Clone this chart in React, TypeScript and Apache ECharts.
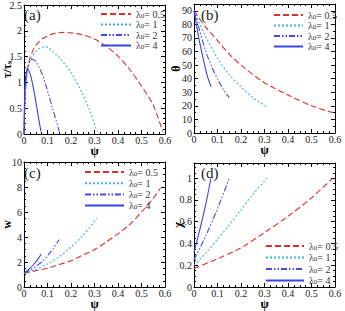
import React, { useEffect, useRef } from "react";
import * as echarts from "echarts";

// ---------- data ----------
const seriesNames = ["λ0= 0.5", "λ0= 1", "λ0= 2", "λ0= 4"];
const xTickLabels = ["0", "0.1", "0.2", "0.3", "0.4", "0.5", "0.6"];

// (a) tau / tau_s vs psi
const psiA05 = [0, 0.005, 0.01, 0.02, 0.04, 0.06, 0.08, 0.1, 0.13, 0.17, 0.2, 0.25, 0.3, 0.35, 0.4, 0.45, 0.5, 0.55, 0.59];
const tauA05 = [0, 0.75, 1.05, 1.38, 1.64, 1.77, 1.85, 1.9, 1.95, 1.97, 1.96, 1.92, 1.84, 1.7, 1.51, 1.25, 0.93, 0.56, 0.05];
const psiA1 = [0, 0.005, 0.01, 0.02, 0.035, 0.05, 0.07, 0.085, 0.1, 0.12, 0.15, 0.2, 0.25, 0.28, 0.31];
const tauA1 = [0, 0.75, 1.04, 1.33, 1.5, 1.6, 1.67, 1.69, 1.68, 1.61, 1.48, 1.19, 0.77, 0.45, 0.05];
const psiA2 = [0, 0.004, 0.01, 0.02, 0.035, 0.05, 0.06, 0.08, 0.1, 0.12, 0.15];
const tauA2 = [0, 0.75, 1.17, 1.36, 1.45, 1.41, 1.33, 1.13, 0.84, 0.52, 0.05];
const psiA4 = [0, 0.003, 0.007, 0.015, 0.025, 0.03, 0.04, 0.05, 0.06, 0.072];
const tauA4 = [0, 0.8, 1.12, 1.26, 1.18, 1.1, 0.89, 0.64, 0.36, 0.05];

// (b) theta vs psi
const psiB05 = [0, 0.02, 0.05, 0.1, 0.15, 0.2, 0.3, 0.4, 0.5, 0.59];
const thB05 = [90, 85, 78, 68, 58, 50, 37, 28, 20, 15];
const psiB1 = [0, 0.02, 0.05, 0.1, 0.15, 0.2, 0.25, 0.31];
const thB1 = [90, 82, 71, 55, 43, 34, 26, 19.5];
const psiB2 = [0, 0.02, 0.05, 0.08, 0.1, 0.125, 0.15];
const thB2 = [90, 78, 60, 47, 40, 32, 26];
const psiB4 = [0, 0.01, 0.02, 0.03, 0.04, 0.055, 0.073];
const thB4 = [90, 80, 70, 62, 54, 43, 34];

// (c) w vs psi
const psiC05 = [0, 0.05, 0.1, 0.15, 0.2, 0.25, 0.3, 0.35, 0.4, 0.45, 0.5, 0.55, 0.58];
const wC05 = [1.1, 1.3, 1.5, 1.8, 2.1, 2.55, 3.0, 3.6, 4.25, 5.0, 6.0, 7.1, 7.9];
const psiC1 = [0, 0.05, 0.1, 0.15, 0.2, 0.25, 0.31];
const wC1 = [1.1, 1.4, 1.85, 2.4, 3.2, 4.1, 5.5];
const psiC2 = [0, 0.025, 0.05, 0.075, 0.1, 0.125, 0.15];
const wC2 = [1.1, 1.35, 1.65, 2.0, 2.5, 3.1, 3.8];
const psiC4 = [0, 0.02, 0.04, 0.06, 0.073];
const wC4 = [1.1, 1.4, 1.78, 2.25, 2.64];

// (d) chi vs psi
const psiD05 = [0, 0.1, 0.2, 0.3, 0.4, 0.5, 0.59];
const chiD05 = [0.17, 0.26, 0.36, 0.5, 0.65, 0.82, 1.0];
const psiD1 = [0, 0.05, 0.1, 0.15, 0.2, 0.25, 0.31];
const chiD1 = [0.2, 0.31, 0.44, 0.57, 0.71, 0.85, 1.0];
const psiD2 = [0, 0.05, 0.1, 0.15];
const chiD2 = [0.25, 0.47, 0.72, 1.0];
const psiD4 = [0, 0.025, 0.05, 0.072];
const chiD4 = [0.32, 0.53, 0.76, 1.0];

const FONT = "Liberation Serif";
const colors = ["#e0302a", "#3cb0f0", "#4a4ae6", "#3344ee"];
const dashes: any[] = [[6, 3], [2, 2], [6, 2, 1.5, 2, 1.5, 2], "solid"];

const zip = (xs: number[], ys: number[]) => xs.map((x, i) => [x, ys[i]]);

export default function App() {
  const ref = useRef<HTMLDivElement>(null);
  useEffect(() => {
    if (!ref.current) return;
    const chart = echarts.init(ref.current, null, { renderer: "svg" });

    const grids = [
      { left: 21, top: 4, width: 144, height: 130 },
      { left: 194, top: 4, width: 141, height: 129 },
      { left: 21, top: 162, width: 144, height: 130 },
      { left: 194, top: 163, width: 141, height: 129 },
    ];
    const yCfg = [
      { min: 0, max: 2.5, interval: 0.5, minor: 5, name: "{b|τ/τ}{s|s}", gap: 11, fmt: (v: number) => String(v) },
      { min: 0, max: 95, interval: 10, minor: 2, name: "{b|θ}", gap: 12, fmt: (v: number) => String(v) },
      { min: 0, max: 10, interval: 2, minor: 4, name: "{b|w}", gap: 11, fmt: (v: number) => String(v) },
      { min: 0, max: 1.14, interval: 0.2, minor: 4, name: "{b|χ}", gap: 10, fmt: (v: number) => (v > 1.05 ? "" : String(Math.round(v * 10) / 10)) },
    ];
    const data = [
      [zip(psiA05, tauA05), zip(psiA1, tauA1), zip(psiA2, tauA2), zip(psiA4, tauA4)],
      [zip(psiB05, thB05), zip(psiB1, thB1), zip(psiB2, thB2), zip(psiB4, thB4)],
      [zip(psiC05, wC05), zip(psiC1, wC1), zip(psiC2, wC2), zip(psiC4, wC4)],
      [zip(psiD05, chiD05), zip(psiD1, chiD1), zip(psiD2, chiD2), zip(psiD4, chiD4)],
    ];

    const axisLine = { show: true, onZero: false, lineStyle: { color: "#000", width: 1 } };
    const xAxes: any[] = [];
    const yAxes: any[] = [];
    const series: any[] = [];
    grids.forEach((g, i) => {
      xAxes.push({
        type: "value", gridIndex: i, min: 0, max: 0.6, interval: 0.1, position: "bottom",
        axisLine, splitLine: { show: false },
        axisTick: { inside: true, length: 4, lineStyle: { color: "#000" } },
        minorTick: { show: true, splitNumber: 4, length: 2, lineStyle: { color: "#000" } },
        axisLabel: { fontFamily: FONT, fontSize: 10, color: "#222", margin: 1,
          formatter: (v: number) => xTickLabels[Math.round(v * 10)] ?? "" },
        name: "ψ", nameLocation: "middle", nameGap: 11, nameMoveOverlap: false,
        nameTextStyle: { fontFamily: FONT, fontSize: 12, fontWeight: "bold", color: "#000" },
      });
      xAxes.push({
        type: "value", gridIndex: i, min: 0, max: 0.6, interval: 0.1, position: "top",
        axisLine, splitLine: { show: false }, axisLabel: { show: false },
        axisTick: { inside: true, length: 4, lineStyle: { color: "#000" } },
        minorTick: { show: true, splitNumber: 4, length: 2, lineStyle: { color: "#000" } },
      });
      const yc = yCfg[i];
      yAxes.push({
        type: "value", gridIndex: i, min: yc.min, max: yc.max, interval: yc.interval, position: "left",
        axisLine, splitLine: { show: false },
        axisTick: { inside: true, length: 4, lineStyle: { color: "#000" } },
        minorTick: { show: true, splitNumber: yc.minor, length: 2, lineStyle: { color: "#000" } },
        axisLabel: { fontFamily: FONT, fontSize: 10, color: "#222", margin: 2, formatter: yc.fmt },
        name: yc.name, nameLocation: "middle", nameGap: yc.gap, nameRotate: 90, nameMoveOverlap: false,
        nameTextStyle: {
          fontFamily: FONT, color: "#000",
          rich: {
            b: { fontFamily: FONT, fontSize: 12, fontWeight: "bold", color: "#000", lineHeight: 12, verticalAlign: "bottom" },
            s: { fontFamily: FONT, fontSize: 8, fontWeight: "bold", color: "#000", lineHeight: 12, verticalAlign: "bottom" },
          },
        },
      });
      yAxes.push({
        type: "value", gridIndex: i, min: yc.min, max: yc.max, interval: yc.interval, position: "right",
        axisLine, splitLine: { show: false }, axisLabel: { show: false },
        axisTick: { inside: true, length: 4, lineStyle: { color: "#000" } },
        minorTick: { show: true, splitNumber: yc.minor, length: 2, lineStyle: { color: "#000" } },
      });
      data[i].forEach((d, k) => {
        series.push({
          type: "line", name: seriesNames[k], xAxisIndex: 2 * i, yAxisIndex: 2 * i,
          data: d, smooth: 0.3, symbol: "none", showSymbol: false,
          lineStyle: { color: colors[k], width: 1.1, type: dashes[k] },
          itemStyle: { color: colors[k] },
        });
      });
    });

    const legendBase = {
      orient: "vertical", itemHeight: 8,
      data: seriesNames,
      itemStyle: { opacity: 0 },
      formatter: (n: string) => `{t|λ}{s|0}{t|${n.slice(2)}}`,
      textStyle: {
        fontFamily: FONT, color: "#333", lineHeight: 10,
        rich: {
          t: { fontFamily: FONT, fontSize: 10, color: "#333", lineHeight: 10, verticalAlign: "bottom" },
          s: { fontFamily: FONT, fontSize: 7, color: "#333", lineHeight: 10, verticalAlign: "bottom" },
        },
      },
    };
    const legends = [
      { ...legendBase, left: 95, top: 4, itemWidth: 30, itemGap: 0.5 },
      { ...legendBase, left: 268, top: 5, itemWidth: 29, itemGap: 0.5 },
      { ...legendBase, left: 79, top: 162, itemWidth: 39, itemGap: 1.2 },
      { ...legendBase, left: 260, top: 236, itemWidth: 38, itemGap: 1.5 },
    ];

    const labels = [
      { t: "(a)", x: 24, y: 7 },
      { t: "(b)", x: 201, y: 7 },
      { t: "(c)", x: 24, y: 165 },
      { t: "(d)", x: 201, y: 165 },
    ];

    chart.setOption({
      animation: false,
      backgroundColor: "#fff",
      grid: grids.map((g) => ({ ...g, containLabel: false })),
      xAxis: xAxes,
      yAxis: yAxes,
      legend: legends,
      series,
      graphic: labels.map((l) => ({
        type: "text", left: l.x, top: l.y,
        style: { text: l.t, fontFamily: FONT, fontSize: 15, fill: "#222" },
      })),
    });
    return () => chart.dispose();
  }, []);
  return <div ref={ref} style={{ position: "absolute", left: 0, top: 0, width: 345, height: 311 }} />;
}
